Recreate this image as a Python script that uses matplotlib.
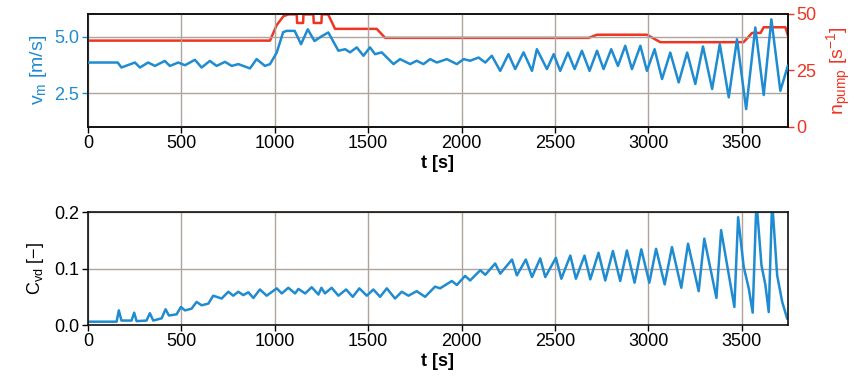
import matplotlib
matplotlib.use("Agg")
import matplotlib.pyplot as plt

plt.rcParams['font.family'] = ['Liberation Sans', 'DejaVu Sans']
plt.rcParams['mathtext.fontset'] = 'custom'
plt.rcParams['mathtext.rm'] = 'Liberation Sans'
plt.rcParams['mathtext.it'] = 'Liberation Sans:italic'
plt.rcParams['mathtext.bf'] = 'Liberation Sans:bold'

# mean velocity v_m [m/s]
t_vm = [0, 160, 180, 252, 279, 323, 359, 412, 439, 484,
        520, 573, 609, 653, 689, 734, 770, 805, 868, 903,
        948, 975, 1011, 1045, 1063, 1107, 1141, 1177, 1213, 1249,
        1287, 1341, 1377, 1403, 1439, 1475, 1510, 1537, 1573, 1636,
        1671, 1725, 1760, 1796, 1832, 1868, 1921, 1975, 2011, 2046,
        2091, 2127, 2162, 2207, 2251, 2287, 2332, 2377, 2403, 2457,
        2493, 2528, 2569, 2605, 2644, 2685, 2725, 2760, 2801, 2837,
        2876, 2912, 2957, 2992, 3033, 3073, 3117, 3162, 3207, 3251,
        3292, 3341, 3382, 3430, 3474, 3523, 3572, 3617, 3658, 3706,
        3746]
vm = [3.85, 3.85, 3.63, 3.85, 3.63, 3.85, 3.70, 3.92, 3.70, 3.85,
      3.73, 3.97, 3.63, 3.92, 3.70, 3.88, 3.70, 3.78, 3.59, 4.00,
      3.70, 3.78, 4.29, 5.19, 5.25, 5.25, 4.66, 5.32, 4.80, 5.00,
      5.18, 4.37, 4.44, 4.30, 4.52, 4.15, 4.52, 4.22, 4.30, 3.78,
      4.00, 3.78, 3.93, 3.78, 4.00, 3.85, 4.00, 3.78, 4.00, 3.93,
      4.07, 3.85, 4.15, 3.48, 4.22, 3.56, 4.30, 3.48, 4.44, 3.56,
      4.22, 3.48, 4.29, 3.56, 4.37, 3.48, 4.37, 3.56, 4.44, 3.70,
      4.59, 3.56, 4.59, 3.48, 4.44, 3.12, 4.29, 2.97, 4.29, 2.90,
      4.56, 2.68, 4.66, 2.31, 4.88, 1.79, 5.40, 2.41, 5.76, 2.60,
      3.70]

# pump speed n_pump [1/s]
t_pump = [0, 975, 1011, 1047, 1074, 1118, 1120, 1152, 1154, 1207,
          1209, 1250, 1252, 1286, 1323, 1546, 1591, 2680, 2725, 2992,
          3064, 3509, 3555, 3600, 3617, 3733, 3746]
npump = [38.2, 38.2, 45.1, 49.0, 49.8, 49.8, 46.0, 46.0, 49.8, 49.8,
         46.0, 46.0, 49.8, 49.8, 43.4, 43.4, 39.4, 39.4, 40.8, 40.8,
         37.5, 37.5, 41.6, 41.6, 44.1, 44.1, 40.7]

# volume concentration C_vd [-]
t_cvd = [0, 154, 166, 180, 234, 248, 261, 314, 332, 350,
         395, 416, 434, 475, 498, 520, 555, 582, 609, 645,
         671, 716, 752, 778, 805, 832, 859, 886, 921, 957,
         1011, 1038, 1073, 1109, 1127, 1163, 1198, 1234, 1250, 1269,
         1305, 1341, 1382, 1418, 1453, 1493, 1528, 1564, 1600, 1644,
         1680, 1716, 1760, 1805, 1858, 1885, 1948, 1975, 2019, 2046,
         2100, 2127, 2180, 2207, 2270, 2296, 2344, 2377, 2421, 2448,
         2505, 2534, 2582, 2612, 2658, 2689, 2733, 2769, 2810, 2849,
         2885, 2926, 2962, 3005, 3041, 3087, 3126, 3176, 3212, 3269,
         3299, 3364, 3389, 3460, 3480, 3510, 3537, 3558, 3578, 3605,
         3626, 3644, 3662, 3689, 3716, 3742]
cvd = [0.006, 0.006, 0.026, 0.008, 0.008, 0.022, 0.007, 0.008, 0.021, 0.008,
       0.012, 0.028, 0.017, 0.019, 0.032, 0.026, 0.029, 0.041, 0.035, 0.038,
       0.052, 0.047, 0.059, 0.052, 0.059, 0.053, 0.058, 0.048, 0.063, 0.052,
       0.065, 0.056, 0.066, 0.056, 0.064, 0.056, 0.067, 0.054, 0.066, 0.056,
       0.066, 0.052, 0.063, 0.050, 0.065, 0.052, 0.063, 0.050, 0.065, 0.047,
       0.059, 0.052, 0.060, 0.050, 0.068, 0.065, 0.078, 0.071, 0.087, 0.079,
       0.097, 0.089, 0.109, 0.091, 0.116, 0.088, 0.116, 0.085, 0.118, 0.085,
       0.119, 0.082, 0.123, 0.082, 0.123, 0.081, 0.128, 0.079, 0.131, 0.078,
       0.132, 0.075, 0.134, 0.075, 0.135, 0.072, 0.138, 0.066, 0.144, 0.060,
       0.153, 0.048, 0.168, 0.032, 0.191, 0.103, 0.065, 0.022, 0.220, 0.106,
       0.071, 0.023, 0.220, 0.088, 0.041, 0.012]

xticks = [0, 500, 1000, 1500, 2000, 2500, 3000, 3500]

blue = '#1f8bd0'
red = '#ee3524'
gridc = '#ada49d'
fs = 13

fig = plt.figure(figsize=(8.61, 3.87), dpi=100)
ax1 = fig.add_axes([0.102, 0.672, 0.813, 0.292])
ax2 = ax1.twinx()
ax3 = fig.add_axes([0.102, 0.160, 0.813, 0.292])

ax1.plot(t_vm, vm, color=blue, lw=1.8, zorder=3, solid_joinstyle='round')
ax2.plot(t_pump, npump, color=red, lw=1.8)
ax3.plot(t_cvd, cvd, color=blue, lw=1.8, solid_joinstyle='round')

ax1.set_xlim(0, 3746)
ax1.set_ylim(1.0, 6.0)
ax1.set_yticks([2.5, 5.0])
ax1.set_yticklabels(['2.5', '5.0'])
ax2.set_ylim(0, 50)
ax2.set_yticks([0, 25, 50])
ax3.set_xlim(0, 3746)
ax3.set_ylim(0, 0.2)
ax3.set_yticks([0.0, 0.1, 0.2])
ax3.set_yticklabels(['0.0', '0.1', '0.2'])

for ax in (ax1, ax3):
    ax.set_xticks(xticks)
    ax.grid(True, color=gridc, lw=1)
    ax.set_axisbelow(True)
    ax.set_xlabel('t [s]', fontsize=fs, fontweight='bold', labelpad=2)
    ax.tick_params(labelsize=fs, direction='out', length=4, width=1, pad=2)

for ax in (ax1, ax2, ax3):
    for s in ax.spines.values():
        s.set_linewidth(1.2)
        s.set_color('#111111')

# keep the red line over the grid but under blue
ax1.set_zorder(ax2.get_zorder() + 1)
ax1.patch.set_visible(False)

ax1.tick_params(axis='y', colors=blue, labelcolor=blue)
ax1.set_ylabel('v$_\\mathrm{m}$ [m/s]', color=blue, fontsize=fs + 1, labelpad=4)
ax2.tick_params(axis='y', labelsize=fs, colors=red, labelcolor=red,
                direction='out', length=4, width=1, pad=2)
ax2.set_ylabel('n$_\\mathrm{pump}$ [s$^{-1}$]', color=red, fontsize=fs + 1, labelpad=6)
ax3.set_ylabel('C$_\\mathrm{vd}$ [\u2212]', fontsize=fs, labelpad=6)

fig.savefig('out.png', dpi=100)
